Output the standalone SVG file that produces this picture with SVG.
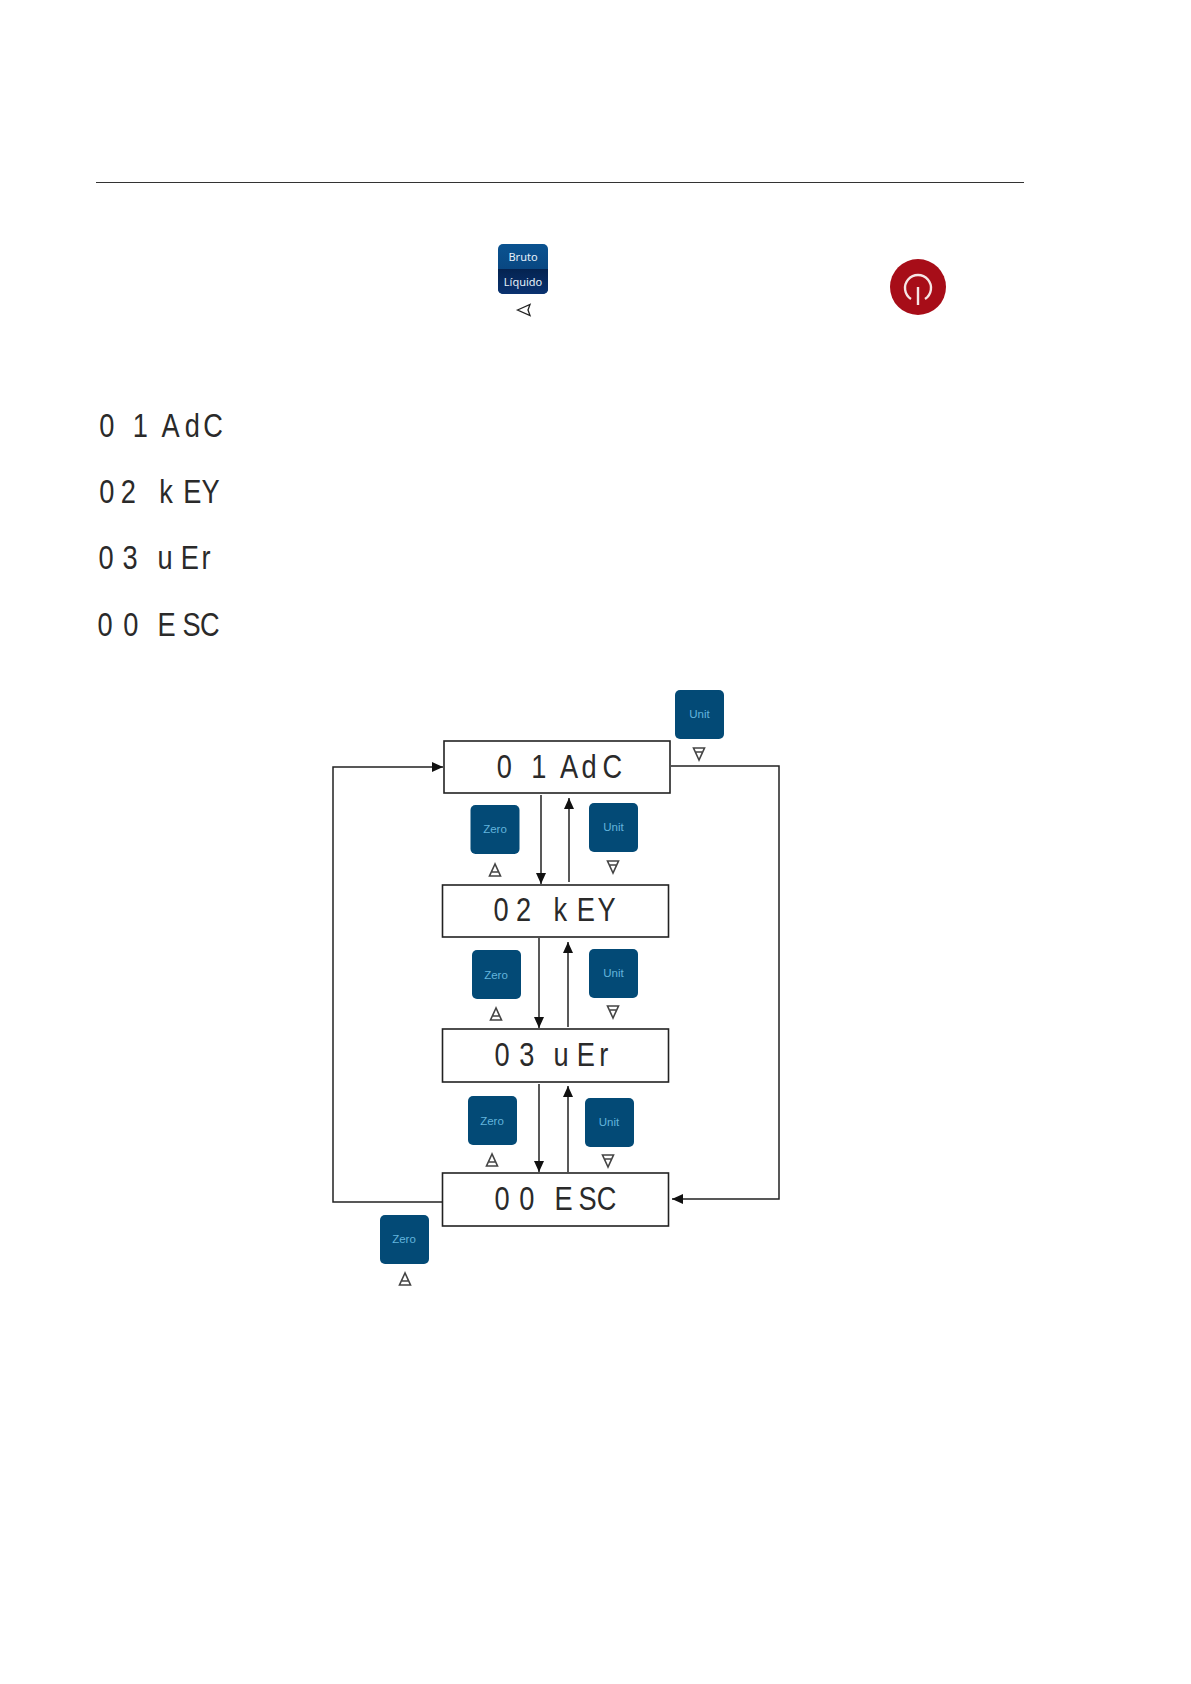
<svg xmlns="http://www.w3.org/2000/svg" width="1191" height="1684" viewBox="0 0 1191 1684">
<style>
.seg{font-family:"Liberation Sans",Arial,sans-serif;font-size:34px;fill:#2a2a2a}
.box{fill:#fff;stroke:#222;stroke-width:1.6}
.btn{fill:#034a76}
.lab{font-family:"Liberation Sans",Arial,sans-serif;font-size:11.500px;fill:#62b4dc;text-anchor:middle}
.top{font-family:"Noto Sans",sans-serif;font-size:11px;fill:#e4f0fa;text-anchor:middle}
.con{fill:none;stroke:#222;stroke-width:1.5}
.tri{fill:none;stroke:#444;stroke-width:1.6;stroke-linejoin:miter}
</style>
<defs>
<marker id="ah" markerUnits="userSpaceOnUse" markerWidth="12" markerHeight="10" refX="11" refY="5" orient="auto"><path d="M0 0L11 5L0 10Z" fill="#111"/></marker>
<path id="up" d="M0 -6L-5.500 6H5.500ZM-3 2H3" class="tri"/>
<path id="dn" d="M0 6L-5.500 -6H5.500ZM-3 -2H3" class="tri"/>
<linearGradient id="g1" x1="0" y1="0" x2="0" y2="1"><stop offset="0" stop-color="#0a5290"/><stop offset="1" stop-color="#083d74"/></linearGradient>
<linearGradient id="g2" x1="0" y1="0" x2="0" y2="1"><stop offset="0" stop-color="#042350"/><stop offset="1" stop-color="#0a3270"/></linearGradient>
</defs>
<rect width="1191" height="1684" fill="#fff"/>
<line x1="96" y1="182.500" x2="1024" y2="182.500" stroke="#333" stroke-width="1.200"/>
<g id="key-bruto-liquido">
<rect x="498" y="244" width="50" height="50" rx="5" fill="url(#g1)"/>
<path d="M498 269H548V289a5 5 0 0 1-5 5H503a5 5 0 0 1-5-5Z" fill="url(#g2)"/>
<text class="top" x="523" y="261">Bruto</text>
<text class="top" x="523" y="286">Líquido</text>
<path d="M517.500 310L530 304.500L528 310L530 315.500Z" fill="none" stroke="#222" stroke-width="1.300"/>
</g>
<g id="key-power">
<circle cx="918" cy="287" r="28" fill="#a70d18"/>
<path d="M911 299A13 13 0 1 1 925 299" fill="none" stroke="#f6e6e6" stroke-width="2.400"/>
<line x1="918" y1="287" x2="918" y2="305" stroke="#f6e6e6" stroke-width="2.400"/>
</g>
<g id="menu-list" transform="scale(.8 1)">
<text class="seg" y="437" x="124 166 190 202 231 254">01 AdC</text>
<text class="seg" y="503" x="124 151 190 199 229 252">02 kEY</text>
<text class="seg" y="569" x="123 153 185 197 226 252">03 uEr</text>
<text class="seg" y="636" x="122 154 185 197 228 250">00 ESC</text>
</g>
<g id="connectors" class="con">
<path marker-end="url(#ah)" d="M443 1202H333V767H443"/>
<path marker-end="url(#ah)" d="M671 766H779V1199H672"/>
<path marker-end="url(#ah)" d="M541 795V884"/>
<path marker-end="url(#ah)" d="M569 882V798"/>
<path marker-end="url(#ah)" d="M539 938V1028"/>
<path marker-end="url(#ah)" d="M568 1027V942"/>
<path marker-end="url(#ah)" d="M539 1084V1172"/>
<path marker-end="url(#ah)" d="M568 1172V1086"/>
</g>
<g id="node-adc">
<rect class="box" x="444" y="741" width="226" height="52"/>
<text class="seg" transform="scale(.8 1)" y="778" x="621 664 690 700 727 753">01 AdC</text>
</g>
<g id="node-key">
<rect class="box" x="442.500" y="885" width="226" height="52"/>
<text class="seg" transform="scale(.8 1)" y="921" x="617 645 680 692 721 747">02 kEY</text>
</g>
<g id="node-ver">
<rect class="box" x="442.500" y="1029" width="226" height="53"/>
<text class="seg" transform="scale(.8 1)" y="1066" x="618 649 680 692 721 749">03 uEr</text>
</g>
<g id="node-esc">
<rect class="box" x="442.500" y="1173" width="226" height="53"/>
<text class="seg" transform="scale(.8 1)" y="1210" x="618 649 680 693 723 746">00 ESC</text>
</g>
<g id="btn-unit-0"><rect class="btn" x="675" y="690" width="49" height="49" rx="5"/><text class="lab" x="699.500" y="718">Unit</text><use href="#dn" x="699" y="754"/></g>
<g id="btn-zero-1"><rect class="btn" x="470.500" y="805" width="49" height="49" rx="5"/><text class="lab" x="495" y="833">Zero</text><use href="#up" x="495" y="870"/></g>
<g id="btn-unit-1"><rect class="btn" x="589" y="803" width="49" height="49" rx="5"/><text class="lab" x="613.500" y="831">Unit</text><use href="#dn" x="613" y="867"/></g>
<g id="btn-zero-2"><rect class="btn" x="472" y="950" width="49" height="49" rx="5"/><text class="lab" x="496" y="979">Zero</text><use href="#up" x="496" y="1014"/></g>
<g id="btn-unit-2"><rect class="btn" x="589" y="949" width="49" height="49" rx="5"/><text class="lab" x="613.500" y="977">Unit</text><use href="#dn" x="613" y="1012"/></g>
<g id="btn-zero-3"><rect class="btn" x="468" y="1096" width="49" height="49" rx="5"/><text class="lab" x="492" y="1125">Zero</text><use href="#up" x="492" y="1160"/></g>
<g id="btn-unit-3"><rect class="btn" x="585" y="1098" width="49" height="49" rx="5"/><text class="lab" x="609" y="1126">Unit</text><use href="#dn" x="608" y="1161"/></g>
<g id="btn-zero-4"><rect class="btn" x="380" y="1215" width="49" height="49" rx="5"/><text class="lab" x="404" y="1243">Zero</text><use href="#up" x="405" y="1279"/></g>
</svg>
